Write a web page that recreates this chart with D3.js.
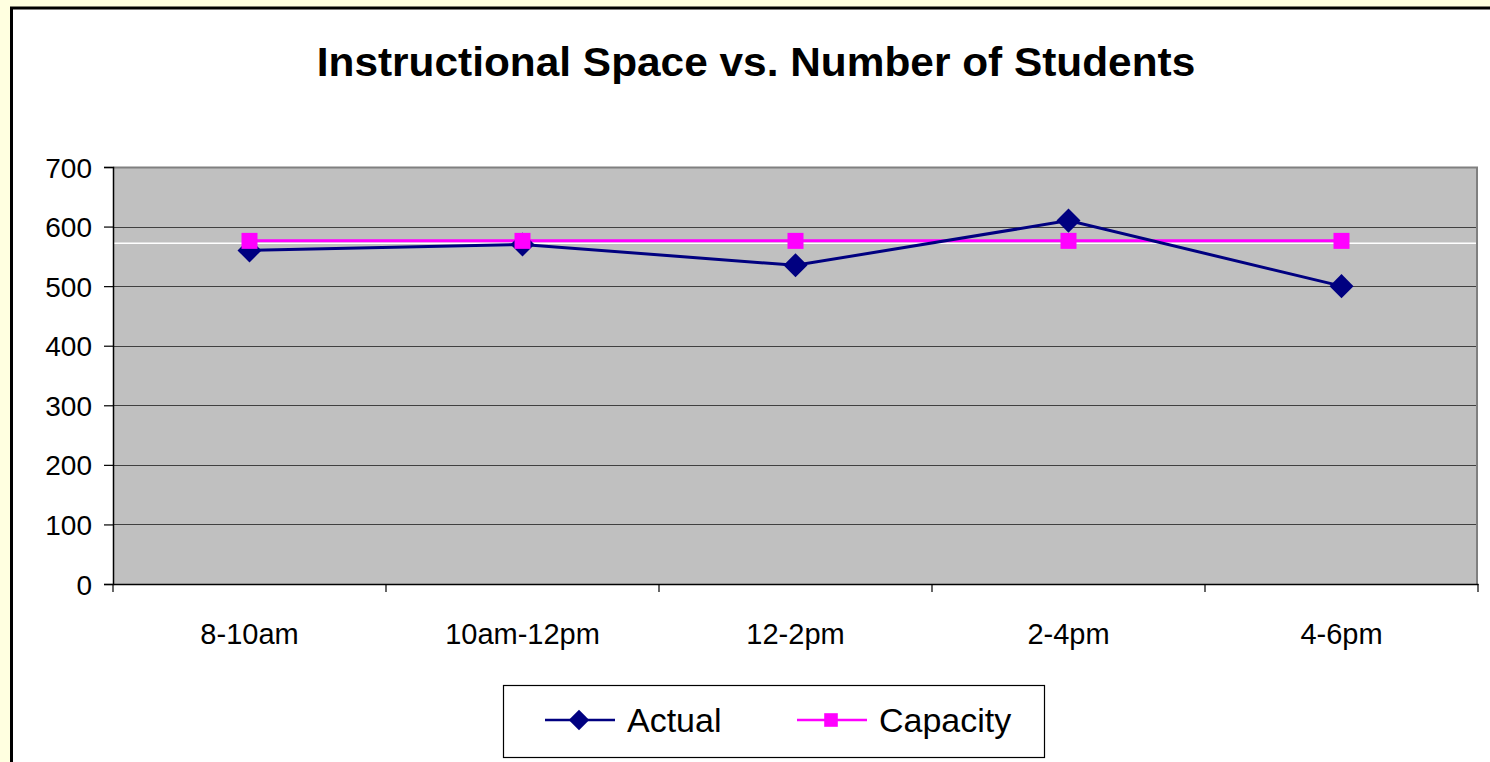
<!DOCTYPE html>
<html>
  <head>
    <meta charset="UTF-8">
    <script src="https://d3js.org/d3.v7.min.js"></script>
    <style>
        body {
            margin: 0;
            background: #FFFFE0;
            overflow: hidden;
        }
        * {
            font-family: Arial, "Liberation Sans", sans-serif;
        }
        .chartTitle {
            font-size: 40px;
            font-weight: bold;
            text-anchor: middle;
        }
        .legendLabel {
            font-size: 34px;
            fill: #000;
        }
    </style>
  </head>
  <body>
    <script>
        let categories = ['8-10am', '10am-12pm', '12-2pm', '2-4pm', '4-6pm']
        let actual = [560, 570, 535, 610, 500]
        let capacity = [576, 576, 576, 576, 576]
        let referenceLine = 572
        let yTicks = [0, 100, 200, 300, 400, 500, 600, 700]
        let seriesNames = ['Actual', 'Capacity']
        let seriesColors = ['#000080', '#FF00FF']

        let svgWidth = 1490, svgHeight = 762
        let margin = {top: 167, right: 12, bottom: 178, left: 113}
        let width = svgWidth - margin.left - margin.right
        let height = svgHeight - margin.top - margin.bottom

        let svg = d3.select('body')
            .append('svg')
            .attr('width', svgWidth)
            .attr('height', svgHeight)

        // outer chart frame
        svg.append('rect')
            .attr('x', 11.5)
            .attr('y', 8)
            .attr('width', 1510)
            .attr('height', 800)
            .attr('fill', '#fff')
            .attr('stroke', '#000')
            .attr('stroke-width', 3)

        svg.append('text')
            .attr('class', 'chartTitle')
            .attr('transform', 'translate(756, 76) scale(1.06, 1)')
            .text('Instructional Space vs. Number of Students')

        let x = d3.scaleBand().domain(categories).range([0, width])
        let y = d3.scaleLinear().domain([0, 700]).range([height, 0])

        let g = svg.append('g')
            .attr('transform', `translate(${margin.left}, ${margin.top})`)

        // plot area
        g.append('rect')
            .attr('width', width)
            .attr('height', height)
            .attr('fill', '#C0C0C0')

        g.selectAll('.grid')
            .data(yTicks.filter(d => d > 0 && d < 700))
            .enter()
            .append('line')
            .attr('x1', 0)
            .attr('x2', width)
            .attr('y1', d => Math.round(y(d)) + 0.5)
            .attr('y2', d => Math.round(y(d)) + 0.5)
            .attr('stroke', '#404040')
            .attr('stroke-width', 1)

        // top and right border of plot
        g.append('path')
            .attr('d', `M0,0.5H${width - 1}V${height}`)
            .attr('fill', 'none')
            .attr('stroke', '#808080')
            .attr('stroke-width', 2)

        g.append('line')
            .attr('x1', 0)
            .attr('x2', width - 2)
            .attr('y1', y(referenceLine))
            .attr('y2', y(referenceLine))
            .attr('stroke', '#fff')
            .attr('stroke-width', 1.5)

        // y axis
        let yAxis = g.append('g')
            .call(d3.axisLeft(y).tickValues(yTicks).tickSize(9).tickPadding(12))
        yAxis.select('.domain').attr('stroke', '#000').attr('stroke-width', 1.5)
        yAxis.selectAll('.tick line').attr('stroke', '#000').attr('stroke-width', 1.2)
        yAxis.selectAll('text').attr('fill', '#000')
            .style('font-size', '28px').attr('dy', '0.36em')

        // x axis
        let xAxis = g.append('g')
            .attr('transform', `translate(0, ${height})`)
            .call(d3.axisBottom(x).tickSize(0).tickPadding(39))
        xAxis.select('.domain').attr('stroke', '#000').attr('stroke-width', 1.5)
        xAxis.selectAll('text').attr('fill', '#000')
            .style('font-size', '29px')

        let bounds = categories.map(c => x(c)).concat([width])
        xAxis.selectAll('.sep')
            .data(bounds)
            .enter()
            .append('line')
            .attr('x1', d => d)
            .attr('x2', d => d)
            .attr('y1', 0)
            .attr('y2', 8)
            .attr('stroke', '#000')
            .attr('stroke-width', 1.2)

        let cx = d => x(d) + x.bandwidth() / 2
        let line = d3.line()
            .x((d, i) => cx(categories[i]))
            .y(d => y(d))

        let diamond = d3.symbol().type(d3.symbolSquare).size(289)
        let square = d3.symbol().type(d3.symbolSquare).size(256)

        // capacity
        g.append('path')
            .attr('d', line(capacity))
            .attr('fill', 'none')
            .attr('stroke', seriesColors[1])
            .attr('stroke-width', 3)

        // actual
        g.append('path')
            .attr('d', line(actual))
            .attr('fill', 'none')
            .attr('stroke', seriesColors[0])
            .attr('stroke-width', 3)

        g.selectAll('.actualPt')
            .data(actual)
            .enter()
            .append('path')
            .attr('d', diamond)
            .attr('transform', (d, i) => `translate(${cx(categories[i])}, ${y(d)}) rotate(45)`)
            .attr('fill', seriesColors[0])

        g.selectAll('.capPt')
            .data(capacity)
            .enter()
            .append('path')
            .attr('d', square)
            .attr('transform', (d, i) => `translate(${cx(categories[i])}, ${y(d)})`)
            .attr('fill', seriesColors[1])

        // legend
        let legend = svg.append('g')
        legend.append('rect')
            .attr('x', 503.5)
            .attr('y', 685.5)
            .attr('width', 541)
            .attr('height', 72)
            .attr('fill', '#fff')
            .attr('stroke', '#000')
            .attr('stroke-width', 1.2)

        let legendX = [545, 797]
        seriesNames.forEach((name, i) => {
            let lg = legend.append('g').attr('transform', `translate(${legendX[i]}, 720)`)
            lg.append('line')
                .attr('x1', 0)
                .attr('x2', 70)
                .attr('stroke', seriesColors[i])
                .attr('stroke-width', 2.5)
            lg.append('path')
                .attr('d', i === 0 ? diamond : square)
                .attr('transform', i === 0 ? 'translate(34, 0) rotate(45) scale(0.85)' : 'translate(34, 0) scale(0.85)')
                .attr('fill', seriesColors[i])
            lg.append('text')
                .attr('class', 'legendLabel')
                .attr('x', 82)
                .attr('y', 12)
                .text(name)
        })
    </script>
  </body>
</html>
